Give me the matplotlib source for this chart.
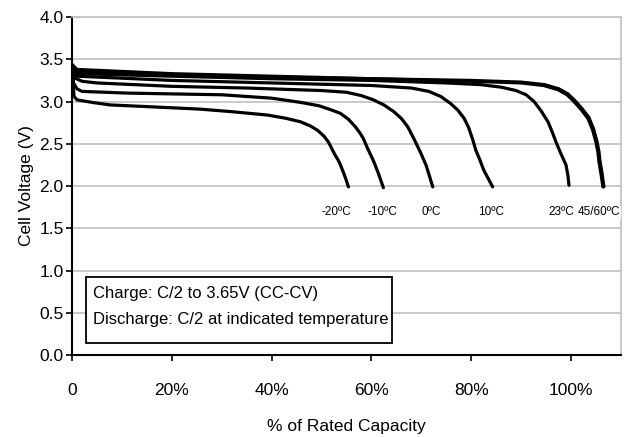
import matplotlib
matplotlib.use("Agg")
import matplotlib.pyplot as plt
from matplotlib.patches import Rectangle

plt.rcParams['font.family'] = ['Liberation Sans', 'DejaVu Sans']

# discharge curves: % of rated capacity vs cell voltage
cap_m20 = [0, 0.4, 1.0, 4.0, 7.6, 15.0, 25.7, 32.0, 39.2, 43.0, 45.8, 47.8, 49.2, 50.5,
           51.4, 52.0, 52.6, 53.4, 53.8, 54.4, 54.9, 55.4]
v_m20 = [3.42, 3.06, 3.02, 2.99, 2.96, 2.94, 2.91, 2.88, 2.84, 2.80, 2.76, 2.71, 2.66, 2.59,
         2.52, 2.45, 2.38, 2.30, 2.25, 2.16, 2.08, 1.99]

cap_m10 = [0, 0.3, 1.0, 2.0, 11.0, 30.0, 40.0, 45.8, 49.5, 52.0, 53.8, 55.4, 56.8, 57.8,
           58.4, 59.2, 60.4, 61.4, 62.4]
v_m10 = [3.42, 3.22, 3.15, 3.12, 3.10, 3.08, 3.04, 2.99, 2.95, 2.90, 2.86, 2.79, 2.70, 2.62,
         2.56, 2.45, 2.30, 2.15, 1.98]

cap_0 = [0, 0.5, 2.0, 5.0, 20.0, 35.0, 50.0, 55.0, 58.0, 60.4, 62.5, 64.5, 66.0, 67.3,
         68.6, 69.9, 71.0, 72.3]
v_0 = [3.42, 3.28, 3.24, 3.22, 3.18, 3.16, 3.13, 3.11, 3.07, 3.02, 2.96, 2.88, 2.80, 2.70,
       2.55, 2.39, 2.24, 1.99]

cap_10 = [0, 1.0, 20.0, 40.0, 60.0, 68.0, 71.5, 73.9, 75.8, 77.3, 78.6, 79.5, 80.3, 80.9,
          81.8, 82.5, 83.4, 84.3]
v_10 = [3.42, 3.30, 3.25, 3.22, 3.19, 3.16, 3.12, 3.06, 2.98, 2.90, 2.80, 2.69, 2.55, 2.43,
        2.30, 2.19, 2.09, 1.99]

cap_23 = [0, 1.0, 20.0, 40.0, 60.0, 75.0, 81.9, 86.0, 89.0, 91.0, 92.6, 94.0, 95.4, 96.3,
          97.0, 98.0, 99.0, 99.4, 99.6]
v_23 = [3.42, 3.33, 3.30, 3.27, 3.25, 3.22, 3.20, 3.17, 3.13, 3.08, 3.00, 2.89, 2.76, 2.63,
        2.52, 2.38, 2.25, 2.12, 2.01]

cap_45 = [0, 1.0, 20.0, 40.0, 60.0, 80.0, 90.0, 94.5, 97.4, 99.2, 100.6, 102.1, 103.4,
          104.3, 105.0, 105.4, 105.6, 106.0, 106.4]
v_45 = [3.42, 3.36, 3.32, 3.29, 3.27, 3.24, 3.22, 3.19, 3.14, 3.08, 3.00, 2.90, 2.80,
        2.67, 2.52, 2.40, 2.29, 2.15, 1.99]

cap_60 = [0, 1.0, 20.0, 40.0, 60.0, 80.0, 90.0, 94.7, 97.6, 99.4, 100.8, 102.3, 103.6,
          104.5, 105.2, 105.6, 105.8, 106.2, 106.6]
v_60 = [3.44, 3.38, 3.33, 3.30, 3.27, 3.25, 3.23, 3.20, 3.15, 3.09, 3.01, 2.91, 2.81,
        2.68, 2.53, 2.41, 2.30, 2.16, 1.99]

curves = [(cap_m20, v_m20), (cap_m10, v_m10), (cap_0, v_0), (cap_10, v_10),
          (cap_23, v_23), (cap_45, v_45), (cap_60, v_60)]

temp_labels = ['-20ºC', '-10ºC', '0ºC', '10ºC', '23ºC', '45/60ºC']
label_x = [53.0, 62.2, 72.0, 84.0, 98.0, 105.6]
label_y = 1.69

fig = plt.figure(figsize=(6.24, 4.37), dpi=100)
ax = fig.add_axes([0.1154, 0.1876, 0.8796, 0.7734])

for c, v in curves:
    ax.plot(c, v, color='black', lw=2.3, solid_joinstyle='round', solid_capstyle='round')

for t, x in zip(temp_labels, label_x):
    ax.text(x, label_y, t, fontsize=8.5, ha='center', va='center',
            bbox=dict(facecolor='white', edgecolor='none', pad=0.5))

ax.set_xlim(0, 110)
ax.set_ylim(0, 4.0)
ax.set_yticks([0, 0.5, 1.0, 1.5, 2.0, 2.5, 3.0, 3.5, 4.0])
ax.set_yticklabels(['%.1f' % y for y in ax.get_yticks()])
ax.set_xticks([0, 20, 40, 60, 80, 100])
ax.set_xticklabels(['0', '20%', '40%', '60%', '80%', '100%'])
ax.yaxis.grid(True, color='#c0c0c0', lw=1.2)
ax.set_axisbelow(True)

for s in ['top', 'right']:
    ax.spines[s].set_color('#c0c0c0')
    ax.spines[s].set_linewidth(1.2)
for s in ['left', 'bottom']:
    ax.spines[s].set_color('black')
    ax.spines[s].set_linewidth(1.5)

ax.tick_params(axis='y', direction='out', length=4, width=1.2, labelsize=12.5, pad=2)
ax.tick_params(axis='x', direction='out', length=4, width=1.2, labelsize=12.5, pad=16)

ax.set_xlabel('% of Rated Capacity', fontsize=12.5, labelpad=15)
ax.set_ylabel('Cell Voltage (V)', fontsize=12.5, labelpad=4)

# note box
ax.add_patch(Rectangle((2.8, 0.142), 61.3, 0.781, facecolor='white', edgecolor='black',
                       lw=1.3, zorder=3))
ax.text(4.2, 0.734, 'Charge: C/2 to 3.65V (CC-CV)', fontsize=12, ha='left', va='center', zorder=4)
ax.text(4.2, 0.426, 'Discharge: C/2 at indicated temperature', fontsize=12, ha='left',
        va='center', zorder=4)

fig.savefig('out.png', dpi=100)
